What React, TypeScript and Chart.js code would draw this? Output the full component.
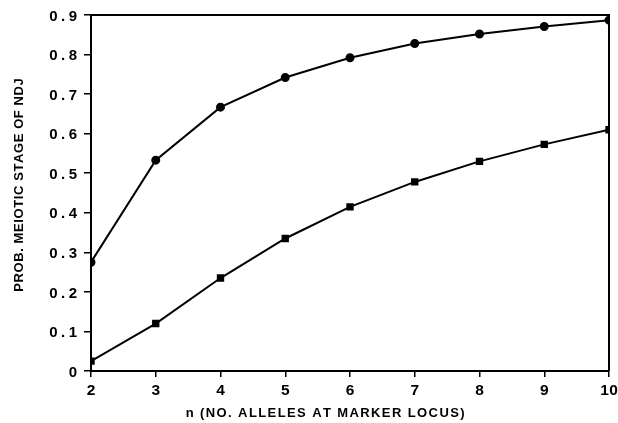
import React, { useEffect, useRef } from "react";
import { Chart, registerables } from "chart.js";

Chart.register(...registerables);

const nValues = [2, 3, 4, 5, 6, 7, 8, 9, 10];
const circleSeries = [0.275, 0.533, 0.667, 0.742, 0.792, 0.828, 0.852, 0.871, 0.887];
const squareSeries = [0.025, 0.12, 0.235, 0.335, 0.415, 0.478, 0.53, 0.573, 0.61];
const yTicks = [0, 0.1, 0.2, 0.3, 0.4, 0.5, 0.6, 0.7, 0.8, 0.9];
const yTickLabels = ["0", "0.1", "0.2", "0.3", "0.4", "0.5", "0.6", "0.7", "0.8", "0.9"];
const xTickLabels = ["2", "3", "4", "5", "6", "7", "8", "9", "10"];
const xTitle = "n (NO. ALLELES AT MARKER LOCUS)";
const yTitle = "PROB. MEIOTIC STAGE OF NDJ";

const FONT = "'Liberation Sans', Arial, sans-serif";

function drawSpaced(ctx: CanvasRenderingContext2D, text: string, x: number, y: number, spacing: number, align: "left" | "center" | "right") {
  const chars = Array.from(text);
  const widths = chars.map((c) => ctx.measureText(c).width);
  const total = widths.reduce((a, b) => a + b, 0) + spacing * (chars.length - 1);
  let cx = align === "left" ? x : align === "center" ? x - total / 2 : x - total;
  ctx.textAlign = "left";
  chars.forEach((c, i) => {
    ctx.fillText(c, cx, y);
    cx += widths[i] + spacing;
  });
}

const textPlugin = {
  id: "textAndFrame",
  afterDraw(chart: any) {
    const { ctx, chartArea, scales } = chart;
    ctx.save();
    ctx.strokeStyle = "#000";
    ctx.lineWidth = 2;
    ctx.beginPath();
    ctx.moveTo(chartArea.left, chartArea.top);
    ctx.lineTo(chartArea.right, chartArea.top);
    ctx.lineTo(chartArea.right, chartArea.bottom);
    ctx.stroke();

    ctx.fillStyle = "#000";
    ctx.textBaseline = "middle";

    // y tick labels
    ctx.font = `bold 15px ${FONT}`;
    yTicks.forEach((v, i) => {
      const py = scales.y.getPixelForValue(v);
      drawSpaced(ctx, yTickLabels[i], chartArea.left - 14, py + 1.5, 3.5, "right");
    });

    // x tick labels
    ctx.font = `bold 15.5px ${FONT}`;
    nValues.forEach((v, i) => {
      const px = scales.x.getPixelForValue(v);
      drawSpaced(ctx, xTickLabels[i], px, chartArea.bottom + 20, 0.5, "center");
    });

    // x title
    ctx.font = `bold 13px ${FONT}`;
    drawSpaced(ctx, xTitle, chartArea.left + (chartArea.right - chartArea.left) * 0.452, 413, 1.4, "center");

    // y title
    ctx.save();
    ctx.translate(19, (chartArea.top + chartArea.bottom) / 2 - 8);
    ctx.rotate(-Math.PI / 2);
    drawSpaced(ctx, yTitle, 0, 0, 0.6, "center");
    ctx.restore();

    ctx.restore();
  },
};

export default function App() {
  const ref = useRef<HTMLCanvasElement>(null);
  useEffect(() => {
    document.body.style.margin = "0";
    const toXY = (ys: number[]) => ys.map((y, i) => ({ x: nValues[i], y }));
    const chart = new Chart(ref.current!, {
      type: "line",
      data: {
        datasets: [
          {
            data: toXY(circleSeries),
            borderColor: "#000",
            backgroundColor: "#000",
            borderWidth: 2,
            pointStyle: "circle",
            pointRadius: 3.5,
            tension: 0,
          },
          {
            data: toXY(squareSeries),
            borderColor: "#000",
            backgroundColor: "#000",
            borderWidth: 2,
            pointStyle: "rect",
            pointRadius: 3.8,
            tension: 0,
          },
        ],
      },
      options: {
        animation: false,
        responsive: false,
        layout: { padding: { top: 15, right: 9, left: 0, bottom: 0 } },
        plugins: { legend: { display: false }, tooltip: { enabled: false } },
        scales: {
          x: {
            type: "linear",
            min: 2,
            max: 10,
            afterFit: (s: any) => {
              s.height = 52;
            },
            afterBuildTicks: (s: any) => {
              s.ticks = nValues.map((v) => ({ value: v }));
            },
            grid: { drawOnChartArea: false, tickLength: 6, color: "#000", lineWidth: 1.5 },
            border: { color: "#000", width: 2 },
            ticks: { display: false },
            title: { display: false },
          },
          y: {
            min: 0,
            max: 0.9,
            afterFit: (s: any) => {
              s.width = 91;
            },
            afterBuildTicks: (s: any) => {
              s.ticks = yTicks.map((v) => ({ value: v }));
            },
            grid: { drawOnChartArea: false, tickLength: 7, color: "#000", lineWidth: 1.5 },
            border: { color: "#000", width: 2 },
            ticks: { display: false },
            title: { display: false },
          },
        },
      },
      plugins: [textPlugin],
    } as any);
    return () => chart.destroy();
  }, []);
  return (
    <div style={{ position: "absolute", left: 0, top: 0, width: 618, height: 423, background: "#fff" }}>
      <canvas ref={ref} width={618} height={423} />
    </div>
  );
}
